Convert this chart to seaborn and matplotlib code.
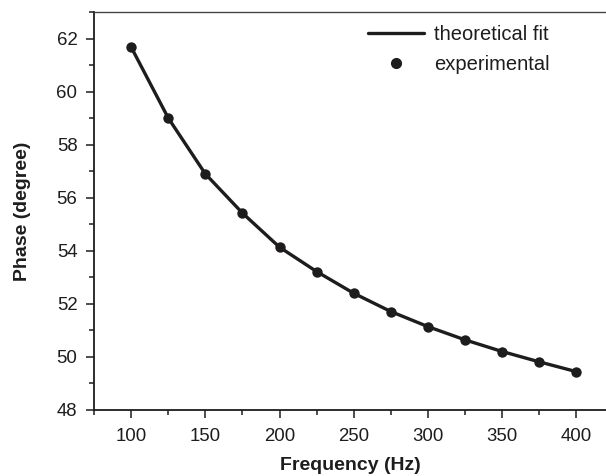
import numpy as np
import pandas as pd
import matplotlib
matplotlib.use("Agg")
import matplotlib.pyplot as plt
from matplotlib.ticker import MultipleLocator
from matplotlib.lines import Line2D
import seaborn as sns

sns.set_theme(style="ticks")
plt.rcParams['font.family'] = ['Liberation Sans', 'DejaVu Sans']

# data
frequency = [100, 125, 150, 175, 200, 225, 250, 275, 300, 325, 350, 375, 400]
phase = [61.69, 59.01, 56.90, 55.42, 54.13, 53.21, 52.39, 51.70, 51.13,
         50.63, 50.19, 49.80, 49.43]
df = pd.DataFrame({"Frequency (Hz)": frequency, "Phase (degree)": phase})

ink = "#1e1c1d"

fig = plt.figure(figsize=(6.06, 4.76), dpi=100)
ax = fig.add_axes([94 / 606, 1 - 409.5 / 476, 1 - 94 / 606, (409.5 - 12.3) / 476])

sns.lineplot(data=df, x="Frequency (Hz)", y="Phase (degree)", ax=ax,
             color=ink, linewidth=2.4)
sns.scatterplot(data=df, x="Frequency (Hz)", y="Phase (degree)", ax=ax,
                color=ink, s=56, edgecolor=ink, linewidth=0, zorder=3)

ax.set_xlim(75, 420)
ax.set_ylim(48, 63)
ax.xaxis.set_major_locator(MultipleLocator(50))
ax.xaxis.set_minor_locator(MultipleLocator(25))
ax.yaxis.set_major_locator(MultipleLocator(2))
ax.yaxis.set_minor_locator(MultipleLocator(1))

ax.tick_params(which="major", direction="out", length=6, width=1.1,
               color=ink, labelsize=13.4, labelcolor=ink)
ax.tick_params(axis="y", which="major", pad=6)
ax.tick_params(axis="x", which="major", pad=7)
ax.tick_params(which="minor", direction="out", length=3.3, width=1.1, color=ink)

for side in ["left", "bottom"]:
    ax.spines[side].set_color(ink)
    ax.spines[side].set_linewidth(1.3)
ax.spines["top"].set_color("#444444")
ax.spines["top"].set_linewidth(1.0)
ax.spines["right"].set_visible(False)

ax.set_xlabel("Frequency (Hz)", fontsize=14, fontweight="bold", color=ink, labelpad=9)
ax.set_ylabel("Phase (degree)", fontsize=14, fontweight="bold", color=ink, labelpad=18)

handles = [Line2D([], [], color=ink, linewidth=2.4),
           Line2D([], [], color=ink, marker="o", linestyle="none", markersize=7)]
ax.legend(handles, ["theoretical fit", "experimental"], frameon=False,
          loc="upper left", bbox_to_anchor=(368 / 606, 1 - 25 / 476),
          bbox_transform=fig.transFigure, borderpad=0, borderaxespad=0,
          fontsize=14.5, handlelength=2.8, labelspacing=0.55, handletextpad=0.5,
          labelcolor=ink)

fig.savefig("out.png", dpi=100)
